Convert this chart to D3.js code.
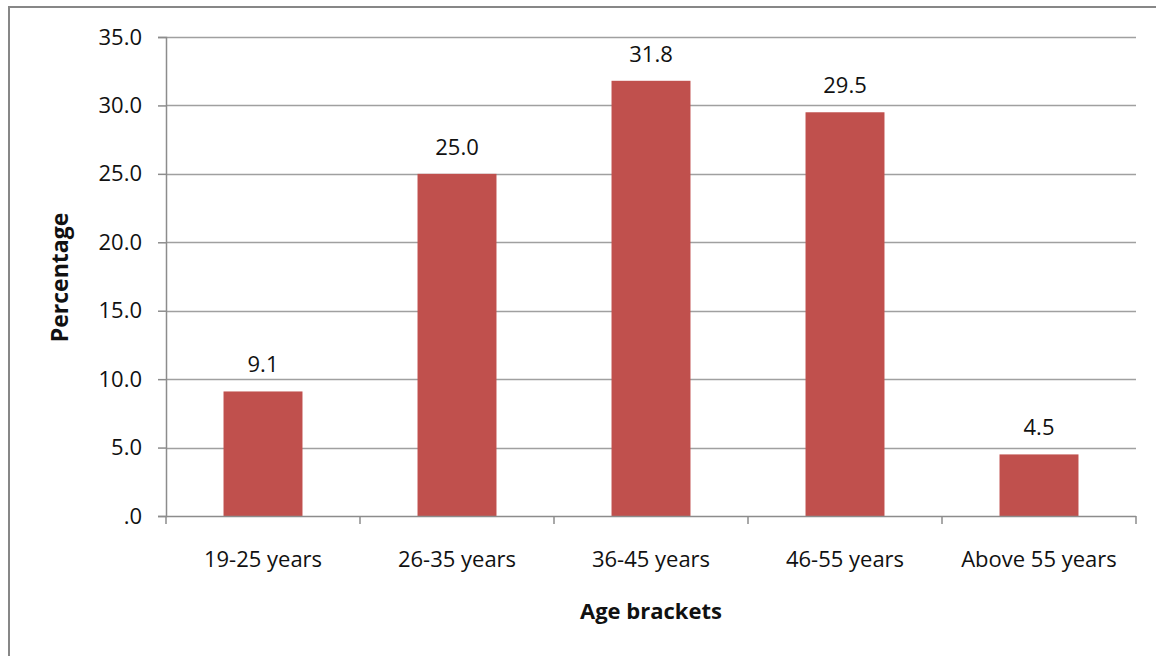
<!DOCTYPE html>
<html>
<head>
<meta charset="utf-8">
<script src="https://cdn.jsdelivr.net/npm/d3@7"></script>
<style>
  body { margin: 0; background: #fff; }
  svg { display: block; font-family: "Open Sans", sans-serif; }
</style>
</head>
<body>
<div id="chart"></div>
<script>
var categories = ["19-25 years", "26-35 years", "36-45 years", "46-55 years", "Above 55 years"];
var values = [9.1, 25.0, 31.8, 29.5, 4.5];
var yTicks = [0, 5, 10, 15, 20, 25, 30, 35];
var xTitle = "Age brackets";
var yTitle = "Percentage";

var W = 1156, H = 656;
var plotL = 166, plotR = 1136, plotT = 37, plotB = 516;
var barColor = "#c0504d";

var svg = d3.select("#chart").append("svg")
    .attr("width", W)
    .attr("height", H);

// chart frame (runs off right and bottom edges)
svg.append("rect")
    .attr("x", 9).attr("y", 7)
    .attr("width", W + 20).attr("height", H + 20)
    .attr("fill", "#fff")
    .attr("stroke", "#878787")
    .attr("stroke-width", 2);

var x = d3.scaleBand()
    .domain(categories)
    .range([plotL, plotR])
    .paddingInner(0.593)
    .paddingOuter(0.2965);

var y = d3.scaleLinear()
    .domain([0, 35])
    .range([plotB, plotT]);

var fmt = function (d) { return d === 0 ? ".0" : d.toFixed(1); };

// gridlines
svg.append("g").selectAll("line")
    .data(yTicks.filter(function (d) { return d > 0; }))
    .join("line")
    .attr("x1", plotL).attr("x2", plotR)
    .attr("y1", function (d) { return Math.round(y(d)) + 0.5; })
    .attr("y2", function (d) { return Math.round(y(d)) + 0.5; })
    .attr("stroke", "#a0a0a0")
    .attr("stroke-width", 1.5);

// y axis
var yAxis = svg.append("g")
    .attr("transform", "translate(" + plotL + ",0)")
    .call(d3.axisLeft(y).tickValues(yTicks).tickFormat(fmt).tickSize(8).tickPadding(16));
yAxis.select(".domain").attr("stroke", "#8c8c8c").attr("stroke-width", 1.5);
yAxis.selectAll(".tick line").attr("stroke", "#8c8c8c").attr("stroke-width", 1.5);
yAxis.selectAll(".tick text")
    .attr("font-size", 22)
    .attr("font-family", "Open Sans, sans-serif")
    .attr("fill", "#111");

// bars
svg.append("g").selectAll("rect")
    .data(values)
    .join("rect")
    .attr("x", function (d, i) { return x(categories[i]); })
    .attr("y", function (d) { return y(d); })
    .attr("width", x.bandwidth())
    .attr("height", function (d) { return y(0) - y(d); })
    .attr("fill", barColor);

// value labels
svg.append("g").selectAll("text")
    .data(values)
    .join("text")
    .attr("x", function (d, i) { return x(categories[i]) + x.bandwidth() / 2; })
    .attr("y", function (d) { return y(d) - 19; })
    .attr("text-anchor", "middle")
    .attr("font-size", 22)
    .attr("fill", "#111")
    .text(function (d) { return d.toFixed(1); });

// x axis line + boundary ticks
var xa = svg.append("g");
xa.append("line")
    .attr("x1", plotL).attr("x2", plotR)
    .attr("y1", plotB + 0.5).attr("y2", plotB + 0.5)
    .attr("stroke", "#8c8c8c").attr("stroke-width", 1.5);
var step = x.step();
xa.selectAll(".xt")
    .data(d3.range(categories.length + 1))
    .join("line")
    .attr("class", "xt")
    .attr("x1", function (i) { return plotL + i * step; })
    .attr("x2", function (i) { return plotL + i * step; })
    .attr("y1", plotB).attr("y2", plotB + 8)
    .attr("stroke", "#8c8c8c").attr("stroke-width", 1.5);
xa.selectAll(".xl")
    .data(categories)
    .join("text")
    .attr("class", "xl")
    .attr("x", function (d) { return x(d) + x.bandwidth() / 2; })
    .attr("y", plotB + 51)
    .attr("text-anchor", "middle")
    .attr("font-size", 22)
    .attr("fill", "#111")
    .text(function (d) { return d; });

// axis titles
svg.append("text")
    .attr("x", (plotL + plotR) / 2)
    .attr("y", 619)
    .attr("text-anchor", "middle")
    .attr("font-size", 22)
    .attr("font-weight", "bold")
    .attr("fill", "#111")
    .text(xTitle);

svg.append("text")
    .attr("transform", "translate(68," + ((plotT + plotB) / 2 + 1) + ") rotate(-90)")
    .attr("text-anchor", "middle")
    .attr("font-size", 23)
    .attr("font-weight", "bold")
    .attr("fill", "#111")
    .text(yTitle);
</script>
</body>
</html>
